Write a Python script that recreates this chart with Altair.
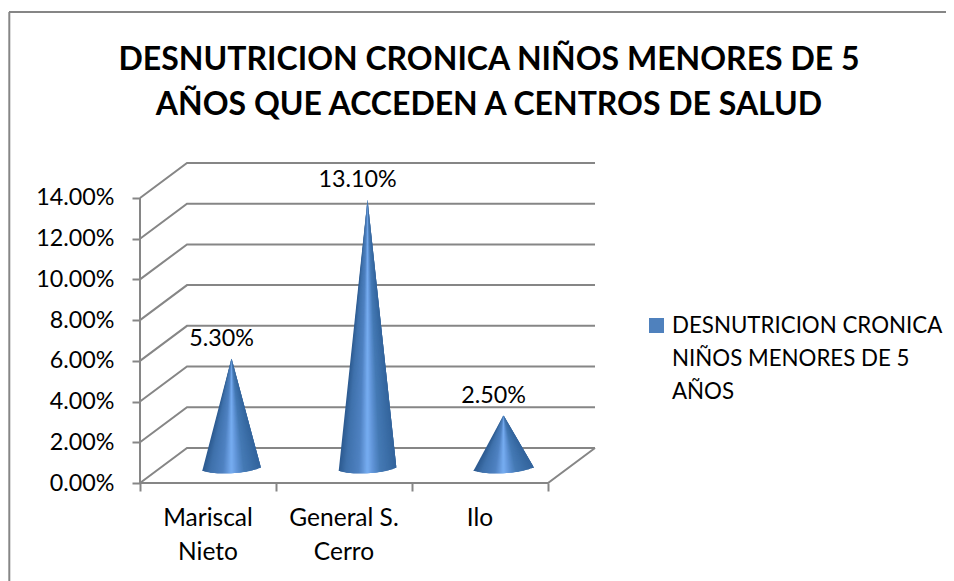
import math
import altair as alt
import pandas as pd

# ---- chart values ----
categories = ["Mariscal\nNieto", "General S.\nCerro", "Ilo"]
values = [5.3, 13.1, 2.5]
y_ticks = [0, 2, 4, 6, 8, 10, 12, 14]
title_lines = ["DESNUTRICION CRONICA NIÑOS MENORES DE 5",
               "AÑOS QUE ACCEDEN A CENTROS DE SALUD"]
legend_text = "DESNUTRICION CRONICA\nNIÑOS MENORES DE 5\nAÑOS"

# ---- 3D projection settings, in axis units ----
PX_PER_CAT = 136.0
PX_PER_PCT = 20.36
PLOT_W = 456
PLOT_H = 320
DEPTH_X = 47 / PX_PER_CAT
DEPTH_Y = 35 / PX_PER_PCT
X_MAX = PLOT_W / PX_PER_CAT
Y_MAX = PLOT_H / PX_PER_PCT
GREY = "#868686"
FONT = "Lato"
NUM_SIZE = 23.3
CAT_SIZE = 24.5
LEGEND_SIZE = 22.3

x_scale = alt.Scale(domain=[0, X_MAX], nice=False, zero=False)
y_scale = alt.Scale(domain=[0, Y_MAX], nice=False, zero=False)
x_axis = alt.Axis(values=[0, 1, 2, 3], labels=False, domain=False, grid=False,
                  tickColor=GREY, tickWidth=2, tickSize=8, title=None)
y_axis = alt.Axis(values=y_ticks, domain=False, grid=False, title=None,
                  tickColor=GREY, tickWidth=2, tickSize=8,
                  labelExpr="format(datum.value/100,'.2%')",
                  labelFont=FONT, labelFontSize=NUM_SIZE, labelColor="#000000",
                  labelPadding=18)

# ---- walls and floor ----
rows = []
for v in y_ticks:
    for o, (px, py) in enumerate([(0, v), (DEPTH_X, v + DEPTH_Y), (3 + DEPTH_X, v + DEPTH_Y)]):
        rows.append({"line": f"g{v}", "o": o, "x": px, "y": py})
extra = {
    "axis": [(0, 0), (0, y_ticks[-1])],
    "floor": [(0, 0), (3, 0), (3 + DEPTH_X, DEPTH_Y)],
}
for name, pts in extra.items():
    for o, (px, py) in enumerate(pts):
        rows.append({"line": name, "o": o, "x": px, "y": py})
grid_df = pd.DataFrame(rows)

grid = alt.Chart(grid_df).mark_line(color=GREY, strokeWidth=2, clip=False).encode(
    x=alt.X("x:Q", scale=x_scale, axis=x_axis),
    y=alt.Y("y:Q", scale=y_scale, axis=y_axis),
    detail="line:N",
    order="o:Q",
)

# ---- cones ----
N = 48
HALF_W = 28.5 / PX_PER_CAT
BASE_Y = 0.83
BASE_B = 7.0 / PX_PER_PCT
TILT = 1.8 / PX_PER_PCT
cone_rows = []
for c, v in enumerate(values):
    cx = c + 0.5 + DEPTH_X / 2
    apex = BASE_Y + v
    for i in range(N):
        f0 = -1 + 2 * i / N
        f1 = min(1, f0 + 6 / N)  # overlaps the next wedges, painted left to right
        e0 = BASE_Y + TILT * f0 - BASE_B * math.sqrt(max(0, 1 - f0 * f0))
        e1 = BASE_Y + TILT * f1 - BASE_B * math.sqrt(max(0, 1 - f1 * f1))
        x0 = cx + HALF_W * f0
        x1 = cx + HALF_W * f1
        hi, lo = (e0, e1) if e0 > e1 else (e1, e0)
        def edge(x_end, y_end, yy):
            return cx + (x_end - cx) * (apex - yy) / (apex - y_end)
        sid = f"{c}-{i:02d}"
        t = (i + 0.5) / N
        cone_rows.append({"id": sid, "t": t, "y": apex, "xa": cx, "xb": cx})
        cone_rows.append({"id": sid, "t": t, "y": hi,
                          "xa": edge(x0, e0, hi), "xb": edge(x1, e1, hi)})
        cone_rows.append({"id": sid, "t": t, "y": lo,
                          "xa": edge(x0, e0, lo), "xb": edge(x1, e1, lo)})
cone_df = pd.DataFrame(cone_rows)

cones = alt.Chart(cone_df).mark_area(orient="horizontal", clip=False).encode(
    y=alt.Y("y:Q", scale=y_scale, axis=y_axis),
    x=alt.X("xa:Q", scale=x_scale, axis=x_axis),
    x2="xb:Q",
    detail="id:N",
    color=alt.Color("t:Q", legend=None,
                    scale=alt.Scale(domain=[0, 0.12, 0.35, 0.5, 0.6, 0.72, 1],
                                    range=["#2c5a90", "#3f71ab", "#4f82c2", "#78aef2",
                                           "#5f93d6", "#457aB5", "#33649c"])),
)

# ---- data labels ----
label_df = pd.DataFrame({
    "x": [c + 0.5 + DEPTH_X / 2 for c in range(3)],
    "y": [BASE_Y + v for v in values],
    "v": [v / 100 for v in values],
})
data_labels = alt.Chart(label_df).mark_text(
    font=FONT, fontSize=NUM_SIZE, color="#000000", dx=-10, dy=-19, baseline="middle"
).encode(
    x=alt.X("x:Q", scale=x_scale, axis=x_axis),
    y=alt.Y("y:Q", scale=y_scale, axis=y_axis),
    text=alt.Text("v:Q", format=".2%"),
)

# ---- category labels ----
cat_df = pd.DataFrame({"x": [c + 0.5 for c in range(3)], "label": categories})
cat_labels = alt.Chart(cat_df).mark_text(
    font=FONT, fontSize=CAT_SIZE, color="#000000", lineBreak="\n", lineHeight=34,
    baseline="top", align="center"
).encode(
    x=alt.X("x:Q", scale=x_scale, axis=x_axis),
    y=alt.value(PLOT_H + 24),
    text="label:N",
)

# ---- legend ----
legend_df = pd.DataFrame({"label": [legend_text]})
legend_swatch = alt.Chart(legend_df).mark_square(color="#4f81bd", size=225, opacity=1).encode(
    x=alt.value(516.5), y=alt.value(162.5)
)
legend_label = alt.Chart(legend_df).mark_text(
    font=FONT, fontSize=LEGEND_SIZE, color="#000000", lineBreak="\n", lineHeight=33,
    baseline="top", align="left"
).encode(x=alt.value(532), y=alt.value(152), text="label:N")

# ---- outer frame (only top and left edges show) ----
frame_l = alt.Chart(legend_df).mark_rule(color=GREY, strokeWidth=2, clip=False).encode(
    x=alt.value(-130.7), y=alt.value(-151), y2=alt.value(418))
frame_t = alt.Chart(legend_df).mark_rule(color=GREY, strokeWidth=2, clip=False).encode(
    x=alt.value(-131), x2=alt.value(814), y=alt.value(-151))

chart = alt.layer(frame_l, frame_t, grid, cones, data_labels, cat_labels,
                  legend_swatch, legend_label).resolve_scale(
    x="shared", y="shared"
).properties(
    width=PLOT_W,
    height=PLOT_H,
    autosize=alt.AutoSizeParams(type="none"),
    padding={"left": 132, "top": 155, "right": 350, "bottom": 98},
    background="#ffffff",
    title=alt.TitleParams(
        text=title_lines, font=FONT, fontSize=32, fontWeight="bold", color="#000000",
        anchor="middle", frame="group", dx=121, offset=-111, lineHeight=45,
    ),
).configure_view(stroke=None)

chart.save("out.html", embed_options={"renderer": "svg", "actions": False})
